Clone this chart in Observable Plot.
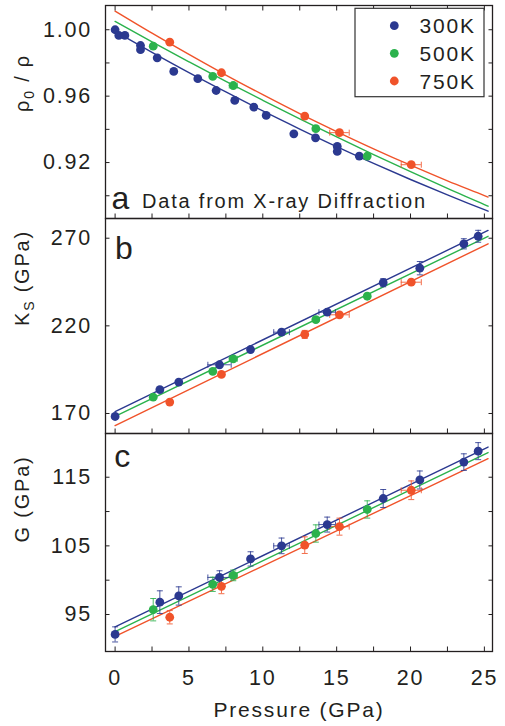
<!DOCTYPE html>
<html>
<head>
<meta charset="utf-8">
<script src="https://cdn.jsdelivr.net/npm/d3@7"></script>
<script src="https://cdn.jsdelivr.net/npm/@observablehq/plot@0.6"></script>
<style>
  body { margin: 0; background: #fff; }
  #chart { position: relative; width: 505px; height: 726px; font-family: "Liberation Sans", Arial, sans-serif; }
  #chart > svg { display: block; }
  #chart svg text { letter-spacing: 1.8px; }
  #legend text { letter-spacing: 1px; }
</style>
</head>
<body>
<div id="chart"></div>
<script>
// ---------- series ----------
const series = ["300K", "500K", "750K"];
const colors = ["#2b3990", "#2bb24c", "#f0532a"];

// ---------- panel a : rho0/rho (X-ray diffraction) ----------
const pA300 = [0, 0.25, 0.66, 1.72, 1.72, 2.85, 3.97, 5.60, 6.84, 8.10, 9.39, 10.23, 12.10, 13.57, 15.04, 15.04, 16.53];
const rho300 = [1.000, 0.9966, 0.9966, 0.9905, 0.9880, 0.9831, 0.9749, 0.9705, 0.9634, 0.9574, 0.9534, 0.9484, 0.9373, 0.9349, 0.9297, 0.9267, 0.9239];
const p500 = [2.58, 6.61, 8.00, 13.59, 17.07];
const xErr500 = [0, 0, 0.27, 0, 0];
const rho500 = [0.9901, 0.9719, 0.9664, 0.9404, 0.9239];
const p750 = [3.70, 7.20, 12.84, 15.19, 20.05];
const xErr750 = [0, 0, 0, 0.66, 0.68];
const rho750 = [0.9925, 0.9741, 0.9480, 0.9380, 0.9187];

// fitted curves
const fitP = [0, 2.5, 5, 7.5, 10, 12.5, 15, 17.5, 20, 22.5, 25, 25.25];
const fitRho300 = [0.999, 0.9864, 0.9742, 0.9625, 0.9511, 0.9402, 0.9296, 0.9195, 0.9098, 0.9005, 0.8916, 0.8907];
const fitRho500 = [1.005, 0.9927, 0.9807, 0.9689, 0.9575, 0.9463, 0.9354, 0.9248, 0.9145, 0.9044, 0.8947, 0.8937];
const fitRho750 = [1.0112, 0.9979, 0.9851, 0.9727, 0.9609, 0.9495, 0.9387, 0.9283, 0.9184, 0.9090, 0.9001, 0.8992];

// ---------- panels b, c : Brillouin ----------
const p300 = [0, 3.03, 4.31, 7.07, 9.17, 11.27, 14.36, 18.15, 20.63, 23.61, 24.58];
const xErr300 = [0, 0, 0, 0.79, 0, 0.53, 0.56, 0, 0, 0, 0];
const ks300 = [168.3, 183.6, 187.9, 197.8, 206.5, 216.4, 227.8, 244.6, 252.9, 266.8, 271.1];
const ksErr300 = [0, 0, 0, 0, 0, 0, 0, 2.3, 3.8, 2.9, 3.4];
const ks500 = [179.3, 194.0, 201.2, 223.5, 236.9];
const ksErr500 = [0, 0, 0, 0, 0];
const ks750 = [176.5, 192.3, 215.1, 226.3, 244.9];
const ksErr750 = [0, 0, 2.3, 0, 0];
const g300 = [92.1, 96.8, 97.7, 100.4, 103.1, 105.0, 108.1, 111.9, 114.6, 117.2, 118.8];
const gErr300 = [1.1, 1.65, 1.33, 0.97, 1.04, 1.14, 1.09, 1.31, 1.31, 1.21, 1.24];
const g500 = [95.7, 99.4, 100.7, 106.8, 110.3];
const gErr500 = [1.63, 1.04, 0.78, 1.26, 1.26];
const g750 = [94.6, 99.1, 105.1, 107.8, 113.1];
const gErr750 = [0.97, 1.07, 1.21, 1.24, 1.36];

// linear fits: endpoints
const linP = [0, 25.25];
const fitKs300 = [171.1, 274.4], fitKs500 = [168.3, 271.1], fitKs750 = [163.1, 266.8];
const fitG300 = [93.2, 119.4], fitG500 = [92.5, 118.6], fitG750 = [91.8, 117.7];

// ---------- ticks ----------
const xTicks = [0, 2.5, 5, 7.5, 10, 12.5, 15, 17.5, 20, 22.5, 25];
const xLabels = [0, 5, 10, 15, 20, 25];
const aTicks = [0.90, 0.92, 0.94, 0.96, 0.98, 1.00];
const aLabels = [0.92, 0.96, 1.00];
const bTicks = [170, 220, 270];
const cTicks = [95, 100, 105, 110, 115];
const cLabels = [95, 105, 115];

// ---------- helpers ----------
const pts = (P, V, XE, YE) => P.map((p, i) => ({p, v: V[i], xe: XE ? XE[i] : 0, ye: YE ? YE[i] : 0}));
const fit = (P, V) => P.map((p, i) => ({p, v: V[i]}));
const capV = {draw(ctx, size) { const r = Math.sqrt(size / Math.PI); ctx.moveTo(0, -r); ctx.lineTo(0, r); }};
const capH = {draw(ctx, size) { const r = Math.sqrt(size / Math.PI); ctx.moveTo(-r, 0); ctx.lineTo(r, 0); }};
const INK = "#231f20";

function errMarks(rows, color) {
  const xb = rows.filter(d => d.xe > 0), yb = rows.filter(d => d.ye > 0);
  const o = {stroke: color, strokeWidth: 1, strokeOpacity: 0.85};
  return [
    Plot.ruleY(xb, {y: "v", x1: d => d.p - d.xe, x2: d => d.p + d.xe, ...o}),
    Plot.dot(xb, {x: d => d.p - d.xe, y: "v", symbol: capV, r: 3, fill: "none", ...o}),
    Plot.dot(xb, {x: d => d.p + d.xe, y: "v", symbol: capV, r: 3, fill: "none", ...o}),
    Plot.ruleX(yb, {x: "p", y1: d => d.v - d.ye, y2: d => d.v + d.ye, ...o}),
    Plot.dot(yb, {x: "p", y: d => d.v - d.ye, symbol: capH, r: 3, fill: "none", ...o}),
    Plot.dot(yb, {x: "p", y: d => d.v + d.ye, symbol: capH, r: 3, fill: "none", ...o})
  ];
}

function panel({height, marginTop, marginBottom, domain, ticks, labels, tickFormat, data, fits, curve, top, bottomLabels, extra}) {
  const marks = [
    ...fits.map((f, i) => Plot.line(f, {x: "p", y: "v", stroke: colors[i], strokeWidth: 1.4, curve})),
    ...data.flatMap((d, i) => errMarks(d, colors[i])),
    ...data.map((d, i) => Plot.dot(d, {x: "p", y: "v", r: 4.4, fill: colors[i]})),
    Plot.frame({stroke: INK, strokeWidth: 1.3}),
    Plot.axisY(ticks, {anchor: "left", tickSize: 4.5, dx: 4.5, text: null, label: null, stroke: INK}),
    Plot.axisY(ticks, {anchor: "right", tickSize: 4.5, dx: -4.5, text: null, label: null, stroke: INK}),
    Plot.axisY(labels, {anchor: "left", tickSize: 0, tickPadding: 13.5, label: null, fontSize: 21.5, fill: INK, tickFormat}),
    Plot.axisX(xTicks, {anchor: "bottom", tickSize: 4.5, dy: -4.5, text: null, label: null, stroke: INK})
  ];
  if (top) marks.push(Plot.axisX(xTicks, {anchor: "top", tickSize: 4.5, dy: 4.5, text: null, label: null, stroke: INK}));
  if (bottomLabels) marks.push(Plot.axisX(xLabels, {anchor: "bottom", tickSize: 0, tickPadding: 18, label: null, fontSize: 21.5, fill: INK}));
  marks.push(...extra);
  return Plot.plot({
    width: 505, height, marginLeft: 105, marginRight: 13, marginTop, marginBottom,
    x: {domain: [-0.65, 25.55]},
    y: {domain},
    style: {fontFamily: '"Liberation Sans", Arial, sans-serif', fontSize: "20px", color: INK, background: "transparent", overflow: "visible"},
    marks
  });
}

const yTitle = (s) => Plot.text([s], {text: d => d, frameAnchor: "left", rotate: -90, dx: -83, lineAnchor: "middle", fontSize: 20, fill: INK});
const letter = (s, anchor, dx, dy) => Plot.text([s], {text: d => d, frameAnchor: anchor, dx, dy, textAnchor: "start", lineAnchor: "bottom", fontSize: 32, fill: INK});

const svgA = panel({
  height: 218, marginTop: 5, marginBottom: 0, domain: [0.8863, 1.0146],
  ticks: aTicks, labels: aLabels, tickFormat: d => d.toFixed(2), curve: "monotone-x", top: true,
  data: [pts(pA300, rho300), pts(p500, rho500, xErr500), pts(p750, rho750, xErr750)],
  fits: [fit(fitP, fitRho300), fit(fitP, fitRho500), fit(fitP, fitRho750)],
  extra: [
    yTitle("rho0 / rho"),
    letter("a", "bottom-left", 6, -10),
    Plot.text(["Data from X-ray Diffraction"], {text: d => d, frameAnchor: "bottom-left", dx: 36.5, dy: -10.5, textAnchor: "start", lineAnchor: "bottom", fontSize: 20, fill: INK})
  ]
});

const svgB = panel({
  height: 215, marginTop: 0, marginBottom: 0, domain: [158.59, 281.24],
  ticks: bTicks, labels: bTicks, curve: "linear",
  data: [pts(p300, ks300, xErr300, ksErr300), pts(p500, ks500, xErr500, ksErr500), pts(p750, ks750, xErr750, ksErr750)],
  fits: [fit(linP, fitKs300), fit(linP, fitKs500), fit(linP, fitKs750)],
  extra: [yTitle("KS (GPa)"), letter("b", "top-left", 9.6, 40.3)]
});

const svgC = panel({
  height: 293, marginTop: 0, marginBottom: 75, domain: [89.61, 121.37],
  ticks: cTicks, labels: cLabels, curve: "linear", bottomLabels: true,
  data: [pts(p300, g300, xErr300, gErr300), pts(p500, g500, xErr500, gErr500), pts(p750, g750, xErr750, gErr750)],
  fits: [fit(linP, fitG300), fit(linP, fitG500), fit(linP, fitG750)],
  extra: [
    yTitle("G (GPa)"),
    letter("c", "top-left", 8.7, 33.7),
    Plot.text(["Pressure (GPa)"], {text: d => d, frameAnchor: "bottom", dy: 65.7, lineAnchor: "bottom", fontSize: 21, fill: INK})
  ]
});

// rich text for subscripts
const NS = "http://www.w3.org/2000/svg";
function rich(svg, plain, parts) {
  svg.querySelectorAll("text").forEach(t => {
    if (t.textContent !== plain) return;
    t.textContent = "";
    let shift = 0;
    for (const [s, sub] of parts) {
      const ts = document.createElementNS(NS, "tspan");
      ts.textContent = s;
      const want = sub ? 5 : 0;
      if (want !== shift) { ts.setAttribute("dy", want - shift); shift = want; }
      if (sub) ts.setAttribute("font-size", "14");
      t.appendChild(ts);
    }
  });
}
rich(svgA, "rho0 / rho", [["ρ", false], ["0", true], [" / ρ", false]]);
rich(svgB, "KS (GPa)", [["K", false], ["S", true], [" (GPa)", false]]);

const chart = document.getElementById("chart");
chart.append(svgA, svgB, svgC);

// legend inside panel a
const legend = d3.select(chart).append("svg").attr("id", "legend")
  .style("position", "absolute").style("left", "354px").style("top", "7px")
  .attr("width", 132).attr("height", 92);
legend.append("rect").attr("x", 1).attr("y", 1.3).attr("width", 129).attr("height", 88.4)
  .attr("fill", "#fff").attr("stroke", "#333").attr("stroke-width", 1.2);
series.forEach((s, i) => {
  const cy = 18.7 + i * 27.65;
  legend.append("circle").attr("cx", 40.3).attr("cy", cy).attr("r", 4.4).attr("fill", colors[i]);
  legend.append("text").attr("x", 65.5).attr("y", cy).attr("dy", "0.36em")
    .attr("font-family", '"Liberation Sans", Arial, sans-serif').attr("font-size", 21).attr("fill", INK).text(s);
});
</script>
</body>
</html>
